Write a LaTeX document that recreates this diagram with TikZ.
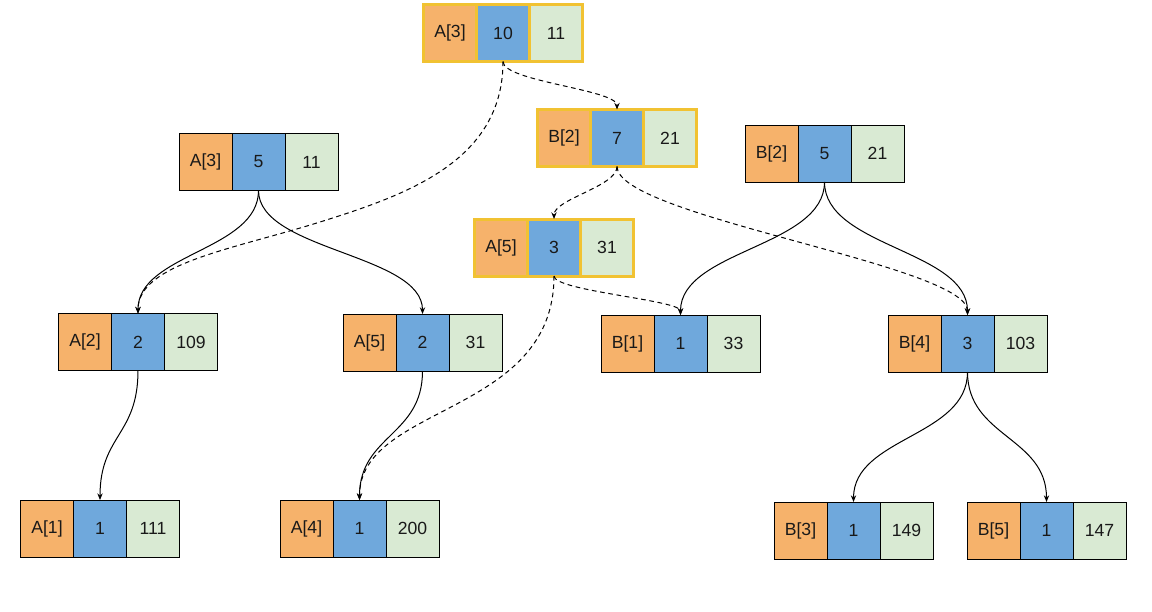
\documentclass[tikz,border=0pt]{standalone}
\usepackage{fontspec}
\setmainfont{Liberation Sans}
\usetikzlibrary{arrows.meta}
\definecolor{cO}{HTML}{F6B26B}
\definecolor{cB}{HTML}{6FA8DC}
\definecolor{cG}{HTML}{D9EAD3}
\definecolor{cY}{HTML}{F1C232}
\tikzset{
  cell/.style={draw=black, line width=0.75pt, minimum width=39.75pt, minimum height=42.75pt,
    inner sep=0pt, outer sep=0pt, font=\fontsize{13.2}{15}\selectfont, text=black!90},
  hl/.style={draw=cY, line width=2.25pt},
  edge/.style={draw=black, line width=0.75pt, -{Stealth[length=5pt,width=4pt]}},
  dedge/.style={edge, dash pattern=on 3.5pt off 2.75pt},
}
\newcommand\trinode[6][]{%
  \node[cell,fill=cB,#1] (#2) at (#3) {#5};
  \node[cell,fill=cO,#1,anchor=east] (#2o) at (#2.west) {#4};
  \node[cell,fill=cG,#1,anchor=west] (#2g) at (#2.east) {#6};
}
\begin{document}
\begin{tikzpicture}[x=0.75pt,y=-0.75pt]
\useasboundingbox (0,0) rectangle (1152,611);
% nodes
\trinode[hl]{T1}{503,33}{A[3]}{10}{11}
\trinode[hl]{T2}{617,138}{B[2]}{7}{21}
\trinode[hl]{T3}{554,247.5}{A[5]}{3}{31}
\trinode{L1}{258.5,162}{A[3]}{5}{11}
\trinode{R1}{824.5,153.5}{B[2]}{5}{21}
\trinode{A2}{138,342}{A[2]}{2}{109}
\trinode{A5}{422.5,342.5}{A[5]}{2}{31}
\trinode{B1}{680.5,343.5}{B[1]}{1}{33}
\trinode{B4}{967.5,343.5}{B[4]}{3}{103}
\trinode{A1}{100,528.5}{A[1]}{1}{111}
\trinode{A4}{359.5,528.5}{A[4]}{1}{200}
\trinode{B3}{853.5,530.5}{B[3]}{1}{149}
\trinode{B5}{1046.5,530.5}{B[5]}{1}{147}
% solid edges
\draw[edge] (L1.south) .. controls +(0,60) and +(0,-60) .. (A2.north);
\draw[edge] (L1.south) .. controls +(0,60) and +(0,-60) .. (A5.north);
\draw[edge] (A2.south) .. controls +(0,65) and +(0,-65) .. (A1.north);
\draw[edge] (A5.south) .. controls +(0,65) and +(0,-65) .. (A4.north);
\draw[edge] (R1.south) .. controls +(0,65) and +(0,-65) .. (B1.north);
\draw[edge] (R1.south) .. controls +(0,65) and +(0,-65) .. (B4.north);
\draw[edge] (B4.south) .. controls +(0,65) and +(0,-65) .. (B3.north);
\draw[edge] (B4.south) .. controls +(0,65) and +(0,-65) .. (B5.north);
% dashed edges
\coordinate (M1) at (320,222);
\draw[dedge] (T1.south) .. controls +(0,100) and +(86,-27) .. (M1)
  .. controls +(-86,27) and +(0,-50) .. (A2.north);
\draw[dedge] (T1.south) .. controls +(0,20) and +(0,-20) .. (T2.north);
\draw[dedge] (T2.south) .. controls +(0,20) and +(0,-20) .. (T3.north);
\draw[dedge] (T2.south) .. controls +(0,50) and +(0,-50) .. (B4.north);
\draw[dedge] (T3.south) .. controls +(0,15) and +(0,-15) .. (B1.north);
\draw[dedge] (T3.south) .. controls +(0,140) and +(0,-96) .. (A4.north);
\end{tikzpicture}
\end{document}
